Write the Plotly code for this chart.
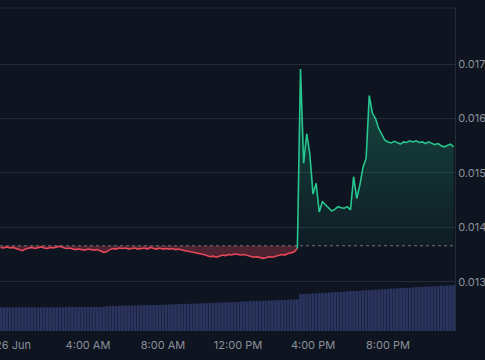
import pandas as pd
import plotly.graph_objects as go

# ---- data ----
BASELINE = 0.01366

PRICE = [
    0.01363, 0.01362, 0.01364, 0.01362, 0.01363, 0.01361, 0.01360, 0.01357, 0.01360, 0.01362,
    0.01363, 0.01361, 0.01363, 0.01364, 0.01362, 0.01361, 0.01363, 0.01362, 0.01364, 0.01365,
    0.01363, 0.01361, 0.01362, 0.01360, 0.01359, 0.01360, 0.01359, 0.01358, 0.01360, 0.01359,
    0.01358, 0.01359, 0.01357, 0.01354, 0.01355, 0.01359, 0.01361, 0.01360, 0.01362, 0.01361,
    0.01362, 0.01360, 0.01361, 0.01362, 0.01360, 0.01361, 0.01362, 0.01360, 0.01363, 0.01361,
    0.01360, 0.01362, 0.01360, 0.01361, 0.01360, 0.01361, 0.01359, 0.01360, 0.01358, 0.01357,
    0.01356, 0.01355, 0.01354, 0.01352, 0.01351, 0.01350, 0.01348, 0.01346, 0.01347, 0.01345,
    0.01347, 0.01349, 0.01348, 0.01350, 0.01349, 0.01351, 0.01350, 0.01349, 0.01350, 0.01348,
    0.01347, 0.01345, 0.01346, 0.01344, 0.01343, 0.01344, 0.01346, 0.01345, 0.01347, 0.01348,
    0.01350, 0.01349, 0.01352, 0.01353, 0.01355, 0.01361,
    0.01691, 0.01518, 0.01572, 0.01533, 0.01461, 0.01481, 0.01428, 0.01447, 0.01441, 0.01436,
    0.01430, 0.01433, 0.01438, 0.01436, 0.01435, 0.01438, 0.01432, 0.01493, 0.01453, 0.01478,
    0.01510, 0.01527, 0.01642, 0.01610, 0.01600, 0.01582, 0.01572, 0.01560, 0.01557, 0.01555,
    0.01558, 0.01556, 0.01553, 0.01557, 0.01556, 0.01559, 0.01557, 0.01559, 0.01556, 0.01557,
    0.01554, 0.01557, 0.01555, 0.01552, 0.01554, 0.01550, 0.01548, 0.01551, 0.01553, 0.01548,
]

VOLUME_M = (
    [1.00] * 21 + [1.01] * 13 +
    [1.05, 1.05, 1.06, 1.06, 1.06, 1.07, 1.07, 1.07, 1.08, 1.08, 1.08, 1.09, 1.09, 1.09, 1.09, 1.10, 1.10] +
    [1.10, 1.11, 1.11, 1.12, 1.12, 1.13, 1.13, 1.14, 1.14, 1.15, 1.15, 1.16, 1.16, 1.17, 1.17, 1.18,
     1.18, 1.19, 1.19, 1.20, 1.20, 1.21, 1.21, 1.22, 1.22, 1.23, 1.24] +
    [1.25, 1.25, 1.26, 1.26, 1.27, 1.27, 1.28, 1.28, 1.29, 1.29, 1.30, 1.30, 1.31, 1.31, 1.32, 1.33, 1.33, 1.34] +
    [1.55, 1.56, 1.57, 1.57, 1.58, 1.59, 1.60, 1.61, 1.61, 1.62, 1.63, 1.64, 1.65, 1.65, 1.66, 1.67,
     1.68, 1.69, 1.69, 1.70, 1.71, 1.72, 1.73] +
    [1.74, 1.75, 1.75, 1.76, 1.77, 1.78, 1.79, 1.79, 1.80, 1.81, 1.82, 1.82, 1.83, 1.84, 1.85, 1.85,
     1.86, 1.87, 1.88, 1.88, 1.89, 1.90, 1.91, 1.91, 1.92, 1.93, 1.94]
)

START_TIME = "2024-06-25 23:20"
STEP = "10min"

X_TICK_VALUES = ["2024-06-26 00:00", "2024-06-26 04:00", "2024-06-26 08:00",
                 "2024-06-26 12:00", "2024-06-26 16:00", "2024-06-26 20:00"]
X_TICK_LABELS = ["26 Jun", "4:00 AM", "8:00 AM", "12:00 PM", "4:00 PM", "8:00 PM"]
Y_TICK_VALUES = [0.013, 0.014, 0.015, 0.016, 0.017]
Y_TICK_LABELS = ["0.0130", "0.0140", "0.0150", "0.0160", "0.0170"]

# ---- styling ----
BG = "#0e1420"
GRID = "#252b37"
TEXT = "#8b9099"
GREEN = "#27c68e"
RED = "#e5485a"
VOL = "#2b345e"
FONT = "Inter, Roboto, sans-serif"

times = pd.date_range(START_TIME, periods=len(PRICE), freq=STEP)
split = next(i for i, v in enumerate(PRICE) if v > BASELINE)

fig = go.Figure()

# volume bars (secondary axis)
fig.add_trace(go.Bar(
    x=times[:len(VOLUME_M)], y=VOLUME_M, yaxis="y2",
    marker=dict(color=VOL, line=dict(width=0)), hoverinfo="skip", showlegend=False,
))

# red part (below baseline)
red_t = times[:split]
red_v = PRICE[:split]
fig.add_trace(go.Scatter(x=red_t, y=[BASELINE] * len(red_t), mode="lines",
                         line=dict(width=0), hoverinfo="skip", showlegend=False))
fig.add_trace(go.Scatter(x=red_t, y=red_v, mode="lines", fill="tonexty",
                         fillcolor="rgba(229,72,90,0.30)",
                         line=dict(color=RED, width=1.6), hoverinfo="skip", showlegend=False))

# green part (above baseline)
g_t = times[split - 1:]
g_v = PRICE[split - 1:]
fig.add_trace(go.Scatter(x=g_t, y=[BASELINE] * len(g_t), mode="lines",
                         line=dict(width=0), hoverinfo="skip", showlegend=False))
fig.add_trace(go.Scatter(x=g_t, y=g_v, mode="lines", fill="tonexty",
                         fillgradient=dict(type="vertical",
                                           colorscale=[[0, "rgba(39,198,142,0.04)"],
                                                       [1, "rgba(39,198,142,0.32)"]]),
                         line=dict(color=GREEN, width=1.6), hoverinfo="skip", showlegend=False))

fig.add_shape(type="line", xref="paper", x0=0, x1=1, yref="y", y0=BASELINE, y1=BASELINE,
              line=dict(color="#6b7280", width=1, dash="dot"), layer="below")
fig.add_shape(type="line", xref="paper", x0=0, x1=1, yref="paper", y0=1, y1=1,
              line=dict(color=GRID, width=1))

fig.update_layout(
    width=485, height=360,
    margin=dict(l=0, r=30, t=8, b=29, autoexpand=False),
    paper_bgcolor=BG, plot_bgcolor=BG,
    font=dict(family=FONT, size=11, color=TEXT),
    showlegend=False, bargap=0.12,
    xaxis=dict(
        type="date",
        range=["2024-06-25 23:18:24", "2024-06-26 23:34:24"],
        tickvals=X_TICK_VALUES, ticktext=X_TICK_LABELS,
        showgrid=False, zeroline=False, showline=False, ticks="",
        tickfont=dict(color=TEXT, size=11), automargin=False,
        ticklabeloverflow="allow", ticklabelstandoff=6,
    ),
    yaxis=dict(
        side="right", range=[0.012094, 0.018031],
        tickvals=Y_TICK_VALUES, ticktext=Y_TICK_LABELS,
        showgrid=True, gridcolor=GRID, gridwidth=1, zeroline=False,
        showline=True, linecolor=GRID, linewidth=1, ticks="",
        tickfont=dict(color=TEXT, size=11), automargin=False,
        ticklabeloverflow="allow",
    ),
    yaxis2=dict(overlaying="y", range=[0, 13.63], visible=False, showgrid=False),
)

fig.write_html("out.html", config={"displayModeBar": False},
               post_script="document.body.style.margin='0';")
